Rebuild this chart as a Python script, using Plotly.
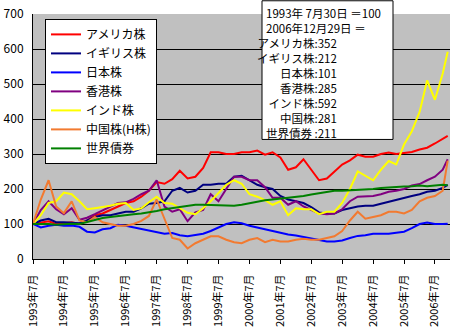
import pandas as pd
import plotly.graph_objects as go

# quarterly month-end observations, last one 2006-12-29
dates = list(pd.date_range("1993-07-31", periods=54, freq="3ME").strftime("%Y-%m-%d")) + ["2006-12-29"]

names = ["アメリカ株", "イギリス株", "日本株", "香港株", "インド株", "中国株(H株)", "世界債券"]
colors = ["#FF0000", "#000080", "#0000FF", "#800080", "#FFFF00", "#F27A30", "#008000"]

usa = [100,105,108,100,103,105,100,110,125,130,140,150,160,165,178,195,220,215,228,252,230,235,260,305,305,300,300,305,305,310,298,305,290,255,262,285,255,225,230,250,270,282,298,292,292,300,304,300,304,306,313,318,330,343,352]
uk = [100,110,115,105,105,103,102,110,120,125,125,130,135,135,145,158,160,165,195,203,190,195,212,212,215,215,235,238,225,212,205,200,180,170,165,160,148,133,130,130,140,145,150,152,152,158,164,170,174,180,185,192,195,203,212]
japan = [100,90,95,98,95,96,92,78,76,85,88,98,95,90,86,82,77,72,74,68,65,68,72,80,90,100,105,102,95,90,85,80,73,70,67,63,58,55,50,50,53,60,66,68,72,72,72,75,78,88,100,104,100,100,101]
hongkong = [100,140,165,142,128,145,112,118,128,138,148,160,162,172,185,195,225,150,135,142,108,133,140,185,165,200,235,235,225,225,205,175,175,155,165,150,140,130,128,130,142,165,178,180,180,185,192,195,200,210,214,225,235,255,285]
india = [100,125,160,165,190,185,165,142,145,148,152,158,160,140,145,162,178,160,158,145,132,128,145,165,190,212,225,215,185,178,168,155,165,125,145,142,142,128,135,135,160,200,250,238,225,255,280,270,327,365,420,510,455,530,592]
china_h = [100,170,225,150,131,165,110,105,120,105,100,95,95,100,109,123,170,115,60,55,30,45,55,65,65,55,48,45,55,60,48,55,50,50,55,58,55,55,60,65,80,110,135,115,120,125,135,135,130,140,165,175,180,195,281]
bonds = [100,101,100,98,100,101,100,105,112,117,120,123,125,128,130,133,137,142,145,148,150,155,155,154,153,152,152,155,160,164,168,170,172,175,177,180,184,188,192,195,195,196,198,200,200,203,205,207,207,208,210,208,210,212,211]

series = [usa, uk, japan, hongkong, india, china_h, bonds]

tick_years = list(range(1993, 2007))
tick_vals = [f"{y}-07-31" for y in tick_years]
tick_text = [f"{y}年7月" for y in tick_years]

info_head = "1993年 7月30日 ＝100<br>2006年12月29日 ＝"
info_lines = ["アメリカ株:352", "イギリス株:212", "日本株:101", "香港株:285",
              "インド株:592", "中国株:281", "世界債券 :211"]

FONT = "Noto Sans CJK JP, Liberation Sans, sans-serif"

fig = go.Figure()
for name, col, vals in zip(names, colors, series):
    fig.add_trace(go.Scatter(x=dates, y=vals, name=name, mode="lines",
                             line=dict(color=col, width=2)))

W, H = 453, 330
L, R, T, B = 33, 3, 14, 66
pw, ph = W - L - R, H - T - B

def px(x):
    return (x - L) / pw

def py(y):
    return (H - B - y) / ph

fig.update_layout(
    width=W, height=H,
    margin=dict(l=L, r=R, t=T, b=B),
    paper_bgcolor="white",
    plot_bgcolor="#C0C0C0",
    font=dict(family=FONT, color="black", size=12),
    showlegend=True,
    legend=dict(x=px(45), y=py(19), xanchor="left", yanchor="top",
                bgcolor="white", bordercolor="black", borderwidth=1,
                font=dict(size=12, family=FONT), itemwidth=30,
                tracegroupgap=0),
    xaxis=dict(type="date", range=["1993-07-31", "2007-01-25"],
               tickmode="array", tickvals=tick_vals, ticktext=tick_text,
               tickangle=-90, ticks="outside", ticklen=4, tickcolor="black",
               showgrid=False, showline=True, linecolor="black", linewidth=1,
               tickfont=dict(size=11, family=FONT), ticklabelstandoff=6,
               zeroline=False),
    yaxis=dict(range=[0, 700], tickmode="array", tickvals=list(range(0, 701, 100)),
               showgrid=True, gridcolor="black", gridwidth=1,
               showline=True, linecolor="black", linewidth=1,
               tickfont=dict(size=12, family=FONT), ticks="",
               ticklabelstandoff=6, zeroline=False),
    shapes=[
        dict(type="rect", xref="paper", yref="paper",
             x0=px(262), x1=px(393), y0=py(142), y1=py(0.5),
             line=dict(color="black", width=1), fillcolor="white", layer="above"),
    ],
    annotations=[
        dict(xref="paper", yref="paper", x=px(264), y=py(3), xanchor="left", yanchor="top",
             text=info_head, showarrow=False, align="left",
             font=dict(size=11.5, family=FONT, color="black")),
        dict(xref="paper", yref="paper", x=px(339), y=py(33), xanchor="right", yanchor="top",
             text="<br>".join(info_lines), showarrow=False, align="right",
             font=dict(size=11.5, family=FONT, color="black")),
    ],
)

fig.write_html("out.html")
